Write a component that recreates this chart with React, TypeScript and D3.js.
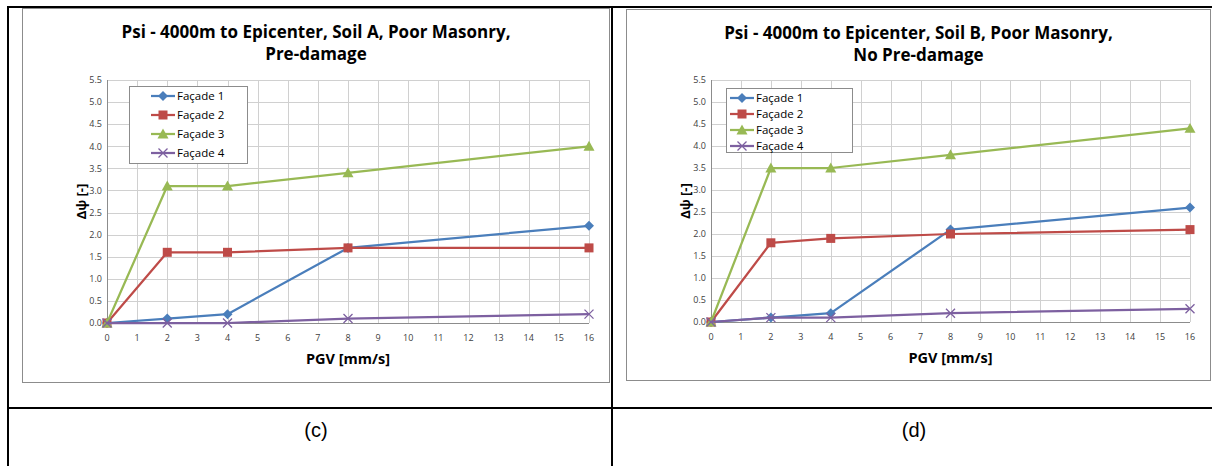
import React from "react";
import * as d3 from "d3";

const pgv = [0, 2, 4, 8, 16];
const seriesNames = ["Façade 1", "Façade 2", "Façade 3", "Façade 4"];
const colors = ["#4A7EBB", "#BE4B48", "#98B954", "#7D60A0"];
const markers = ["diamond", "square", "triangle", "cross"];

const cF1 = [0, 0.1, 0.2, 1.7, 2.2];
const cF2 = [0, 1.6, 1.6, 1.7, 1.7];
const cF3 = [0, 3.1, 3.1, 3.4, 4.0];
const cF4 = [0, 0, 0, 0.1, 0.2];

const dF1 = [0, 0.1, 0.2, 2.1, 2.6];
const dF2 = [0, 1.8, 1.9, 2.0, 2.1];
const dF3 = [0, 3.5, 3.5, 3.8, 4.4];
const dF4 = [0, 0.1, 0.1, 0.2, 0.3];

const xTicks = d3.range(0, 17, 1);
const yTicks = d3.range(0, 5.51, 0.5);

const titleC = ["Psi - 4000m to Epicenter, Soil A, Poor Masonry,", "Pre-damage"];
const titleD = ["Psi - 4000m to Epicenter, Soil B, Poor Masonry,", "No Pre-damage"];
const captions = ["(c)", "(d)"];

const FONT = "'Open Sans', 'Liberation Sans', sans-serif";

function Marker({ type, x, y, color }: { type: string; x: number; y: number; color: string }) {
  if (type === "diamond") {
    const s = 5;
    return <path d={`M${x},${y - s}L${x + s},${y}L${x},${y + s}L${x - s},${y}Z`} fill={color} />;
  }
  if (type === "square") {
    const s = 4.5;
    return <rect x={x - s} y={y - s} width={2 * s} height={2 * s} fill={color} />;
  }
  if (type === "triangle") {
    const s = 5.5;
    return <path d={`M${x},${y - s}L${x + s},${y + s * 0.8}L${x - s},${y + s * 0.8}Z`} fill={color} />;
  }
  const s = 4.5;
  return (
    <path
      d={`M${x - s},${y - s}L${x + s},${y + s}M${x - s},${y + s}L${x + s},${y - s}`}
      stroke={color}
      strokeWidth={1.3}
      fill="none"
    />
  );
}

type PanelProps = {
  frame: [number, number, number, number];
  plot: [number, number, number, number];
  title: string[];
  data: number[][];
  legend: [number, number, number, number];
  legendRowGap: number;
  legendLine: number;
  yTitleX: number;
};

function Panel({ frame, plot, title, data, legend, legendRowGap, legendLine, yTitleX }: PanelProps) {
  const [fx0, fy0, fx1, fy1] = frame;
  const [px0, py0, px1, py1] = plot;
  const x = d3.scaleLinear().domain([0, 16]).range([px0, px1]);
  const y = d3.scaleLinear().domain([0, 5.5]).range([py1, py0]);
  const line = d3
    .line<number>()
    .x((_, i) => x(pgv[i]))
    .y((v) => y(v));
  const [lx0, ly0, lx1, ly1] = legend;
  const tcx = (px0 + px1) / 2 - 32;
  return (
    <g>
      <rect x={fx0 + 0.5} y={fy0 + 0.5} width={fx1 - fx0} height={fy1 - fy0} fill="#fff" stroke="#8C8C8C" strokeWidth={1} />
      {title.map((t, i) => (
        <text key={i} x={tcx} y={fy0 + 30 + i * 22} textAnchor="middle" fontFamily={FONT} fontWeight="bold" fontSize={17} fill="#000">
          {t}
        </text>
      ))}
      {xTicks.map((t) => (
        <line key={"gx" + t} x1={Math.round(x(t)) + 0.5} x2={Math.round(x(t)) + 0.5} y1={py0} y2={py1} stroke="#D0D0D0" strokeWidth={1} />
      ))}
      {yTicks.map((t) => (
        <line key={"gy" + t} x1={px0} x2={px1} y1={Math.round(y(t)) + 0.5} y2={Math.round(y(t)) + 0.5} stroke="#D0D0D0" strokeWidth={1} />
      ))}
      <line x1={px0 + 0.5} x2={px0 + 0.5} y1={py0} y2={py1} stroke="#8C8C8C" />
      <line x1={px0} x2={px1} y1={Math.round(py1) + 0.5} y2={Math.round(py1) + 0.5} stroke="#8C8C8C" />
      {yTicks.map((t) => (
        <text key={"yl" + t} x={px0 - 5} y={y(t) + 3.3} textAnchor="end" fontFamily={FONT} fontSize={9} fill="#404040">
          {t.toFixed(1)}
        </text>
      ))}
      {xTicks.map((t) => (
        <text key={"xl" + t} x={x(t)} y={py1 + 18} textAnchor="middle" fontFamily={FONT} fontSize={9} fill="#404040">
          {t}
        </text>
      ))}
      <text x={(px0 + px1) / 2} y={py1 + 41} textAnchor="middle" fontFamily={FONT} fontWeight="bold" fontSize={14.5} fill="#000">
        PGV [mm/s]
      </text>
      <text
        transform={`translate(${yTitleX},${(py0 + py1) / 2}) rotate(-90)`}
        textAnchor="middle"
        fontFamily={FONT}
        fontWeight="bold"
        fontSize={13}
        fill="#000"
      >
        Δψ [-]
      </text>
      {data.map((s, si) => (
        <g key={"s" + si}>
          <path d={line(s) || ""} fill="none" stroke={colors[si]} strokeWidth={2.25} strokeLinejoin="round" />
          {s.map((v, i) => (
            <Marker key={i} type={markers[si]} x={x(pgv[i])} y={y(v)} color={colors[si]} />
          ))}
        </g>
      ))}
      <rect x={lx0 + 0.5} y={ly0 + 0.5} width={lx1 - lx0} height={ly1 - ly0} fill="#fff" stroke="#8C8C8C" />
      {seriesNames.map((n, i) => {
        const yy = ly0 + 10 + i * legendRowGap;
        return (
          <g key={"lg" + i}>
            <line x1={lx0 + legendLine} x2={lx0 + legendLine + 24} y1={yy} y2={yy} stroke={colors[i]} strokeWidth={2.25} />
            <Marker type={markers[i]} x={lx0 + legendLine + 12} y={yy} color={colors[i]} />
            <text x={lx0 + legendLine + 26} y={yy + 4} fontFamily={FONT} fontSize={11.5} fill="#000">
              {n}
            </text>
          </g>
        );
      })}
    </g>
  );
}

export default function App() {
  const panels: PanelProps[] = [
    {
      frame: [22, 8, 609, 382],
      plot: [107, 80, 589, 323],
      title: titleC,
      data: [cF1, cF2, cF3, cF4],
      legend: [129, 86, 247, 163],
      legendRowGap: 19,
      legendLine: 22,
      yTitleX: 86,
    },
    {
      frame: [626, 9, 1210, 380],
      plot: [711, 80, 1190, 322],
      title: titleD,
      data: [dF1, dF2, dF3, dF4],
      legend: [726, 88, 852, 152],
      legendRowGap: 16,
      legendLine: 4,
      yTitleX: 690,
    },
  ];
  return (
    <svg width={1212} height={466} style={{ position: "absolute", left: 0, top: 0 }}>
      <rect width={1212} height={466} fill="#fff" />
      {panels.map((p, i) => (
        <Panel key={i} {...p} />
      ))}
      <line x1={8} x2={1212} y1={7} y2={7} stroke="#000" strokeWidth={2} />
      <line x1={8} x2={8} y1={6} y2={466} stroke="#000" strokeWidth={2} />
      <line x1={612} x2={612} y1={6} y2={466} stroke="#000" strokeWidth={2} />
      <line x1={8} x2={1212} y1={408} y2={408} stroke="#000" strokeWidth={2} />
      <text x={316} y={437} textAnchor="middle" fontFamily="'Liberation Sans', sans-serif" fontSize={20} fill="#000">
        {captions[0]}
      </text>
      <text x={914} y={437} textAnchor="middle" fontFamily="'Liberation Sans', sans-serif" fontSize={20} fill="#000">
        {captions[1]}
      </text>
    </svg>
  );
}
